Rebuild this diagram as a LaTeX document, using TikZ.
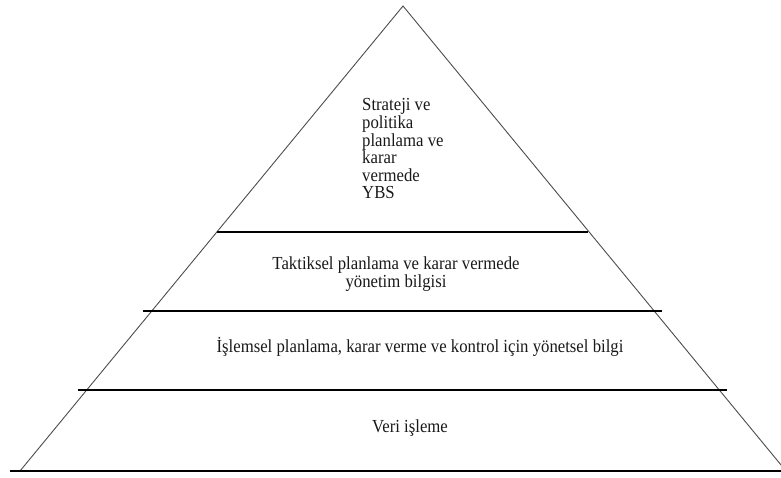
\documentclass[tikz,border=0pt]{standalone}
\usepackage{fontspec}
\setmainfont{Liberation Serif}[FakeStretch=0.91]
\begin{document}
\begin{tikzpicture}[x=1pt,y=-1pt,
  lbl/.style={inner sep=0pt, text=black!90, font=\fontsize{18.4}{17.6}\selectfont},
  edge/.style={draw=black!70, line width=0.9pt},
  level/.style={draw=black, line width=1.8pt}]
\useasboundingbox (0,0) rectangle (781,478);
\clip (0,0) rectangle (781,478);
\coordinate (apex) at (403,6);
\coordinate (bl) at (20,471);
\coordinate (br) at (786,471);
\draw[edge] (bl) -- (apex) -- (br);
\coordinate (l1a) at (217,232); \coordinate (l1b) at (588,232);
\coordinate (l2a) at (143,311); \coordinate (l2b) at (662,311);
\coordinate (l3a) at (78,390);  \coordinate (l3b) at (727,390);
\coordinate (b0a) at (10,471);  \coordinate (b0b) at (781,471);
\draw[level] (l1a) -- (l1b);
\draw[level] (l2a) -- (l2b);
\draw[level] (l3a) -- (l3b);
\draw[level] (b0a) -- (b0b);
\node[lbl, anchor=north west, align=left] (top) at (362,98.5)
  {Strateji ve\\politika\\planlama ve\\karar\\vermede\\YBS};
\node[lbl, anchor=north, align=center, font=\fontsize{18.4}{18.5}\selectfont] (tak) at (396,256.5)
  {Taktiksel planlama ve karar vermede\\yönetim bilgisi};
\node[lbl, anchor=base] (isl) at (420,352)
  {İşlemsel planlama, karar verme ve kontrol için yönetsel bilgi};
\node[lbl, anchor=base] (veri) at (410,432) {Veri işleme};
\end{tikzpicture}
\end{document}
